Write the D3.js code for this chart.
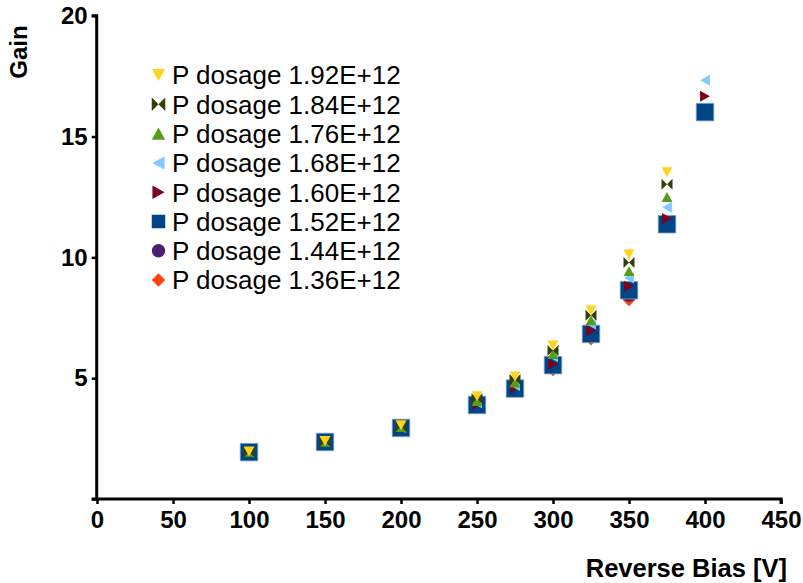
<!DOCTYPE html>
<html><head><meta charset="utf-8">
<script src="https://cdn.jsdelivr.net/npm/d3@7/dist/d3.min.js"></script>
<style>
html,body{margin:0;padding:0;background:#fff;}
svg{display:block;font-family:"Liberation Sans",Arial,sans-serif;}
</style></head>
<body><svg id="c" width="803" height="583"></svg>
<script>
const biasV = [100,150,200,250,275,300,325,350,375,400];
const seriesNames = ["P dosage 1.92E+12","P dosage 1.84E+12","P dosage 1.76E+12","P dosage 1.68E+12","P dosage 1.60E+12","P dosage 1.52E+12","P dosage 1.44E+12","P dosage 1.36E+12"];
const gain192 = [1.97,2.40,3.05,4.25,5.07,6.35,7.80,10.12,13.52,null];
const gain184 = [1.95,2.38,3.00,4.15,4.95,6.15,7.60,9.79,13.03,null];
const gain176 = [1.95,2.37,2.98,4.05,4.82,6.00,7.40,9.43,12.50,null];
const gain168 = [1.95,2.37,2.96,3.98,4.70,5.89,7.24,9.15,12.07,17.33];
const gain160 = [1.95,2.37,2.95,3.92,4.60,5.58,6.96,8.80,11.61,16.67];
const gain152 = [1.94,2.36,2.94,3.89,4.57,5.54,6.83,8.64,11.37,16.01];
const gain144 = [1.93,2.35,2.93,3.85,4.52,5.45,6.75,8.45,11.30,null];
const gain136 = [1.92,2.34,2.92,3.80,4.47,5.35,6.62,8.25,null,null];
const xTicks = [0,50,100,150,200,250,300,350,400,450];
const yTicks = [0,5,10,15,20];

const allGains = [gain192,gain184,gain176,gain168,gain160,gain152,gain144,gain136];
const colors = ["#ffd320","#314004","#579d1c","#83caff","#7e0021","#004586","#4b1f6f","#ff420e"];
const shapes = ["tridown","bowtie","triup","trileft","triright","square","circle","diamond"];

function shapePath(t, s){
  const h = s/2;
  switch(t){
    case "tridown": return `M${-h},${-h*0.9}L${h},${-h*0.9}L0,${h*0.9}Z`;
    case "triup": return `M${-h},${h*0.9}L${h},${h*0.9}L0,${-h*0.9}Z`;
    case "trileft": return `M${h*0.9},${-h}L${h*0.9},${h}L${-h*0.9},0Z`;
    case "triright": return `M${-h*0.9},${-h}L${-h*0.9},${h}L${h*0.9},0Z`;
    case "bowtie": return `M${-h},${-h}L0,0L${-h},${h}ZM${h},${-h}L0,0L${h},${h}Z`;
    case "square": return `M${-h},${-h}H${h}V${h}H${-h}Z`;
    case "diamond": return `M0,${-h}L${h},0L0,${h}L${-h},0Z`;
    case "circle": return `M${h},0A${h},${h} 0 1 1 ${-h},0A${h},${h} 0 1 1 ${h},0Z`;
  }
}

const svg = d3.select("#c");
const x = d3.scaleLinear().domain([0,450]).range([97,781]);
const y = d3.scaleLinear().domain([0,20]).range([499,15.7]);

// axes
const xAxis = svg.append("g").attr("transform","translate(0,499)")
  .call(d3.axisBottom(x).tickValues(xTicks).tickSize(5).tickPadding(7).tickFormat(d3.format("d")));
const yAxis = svg.append("g").attr("transform","translate(96.7,0)")
  .call(d3.axisLeft(y).tickValues(yTicks).tickSize(5).tickPadding(4).tickFormat(d=>d===0?"":d3.format("d")(d)));
[xAxis,yAxis].forEach(a=>{
  a.select(".domain").attr("stroke","#000").attr("stroke-width",3);
  a.selectAll(".tick line").attr("stroke","#000").attr("stroke-width",2.5);
  a.selectAll(".tick text").attr("fill","#000").style("font-size","24px").style("font-weight","bold").style("font-family","'Liberation Sans',Arial,sans-serif");
});
yAxis.select(".domain").attr("d",`M-5,${y(0)}H0V${y(20)}H-5`);
xAxis.select(".domain").attr("d",`M${x(0)-0.3},0H${x(450)}V5`);

// axis titles
svg.append("text").attr("transform","translate(27,52) rotate(-90)")
  .attr("text-anchor","middle").style("font-size","24px").style("font-weight","bold").text("Gain");
svg.append("text").attr("x",787).attr("y",577).attr("text-anchor","end")
  .style("font-size","25.5px").style("font-weight","bold").text("Reverse Bias [V]");

// data markers: draw lowest dosage first
const plotSizes = [11,11,11,11,11,17.5,14,13];
for(let i=allGains.length-1;i>=0;i--){
  const pts = biasV.map((v,j)=>({v,g:allGains[i][j]})).filter(d=>d.g!=null);
  svg.append("g").selectAll("path").data(pts).join("path")
    .attr("transform",d=>`translate(${x(d.v)},${y(d.g)})`)
    .attr("d",shapePath(shapes[i],plotSizes[i]))
    .attr("fill",colors[i])
    .attr("stroke",shapes[i]==="square"?"#7f9fc3":"none")
    .attr("stroke-width",0.8);
}

// legend
const legY0 = 75, legDy = 29.3;
const lg = svg.append("g");
seriesNames.forEach((n,i)=>{
  const cy = legY0 + i*legDy;
  lg.append("path").attr("transform",`translate(158.5,${cy})`)
    .attr("d",shapePath(shapes[i],13.5)).attr("fill",colors[i]);
  lg.append("text").attr("x",172).attr("y",cy).attr("dy","0.36em")
    .style("font-size","26px").attr("fill","#000").text(n);
});
</script></body></html>
